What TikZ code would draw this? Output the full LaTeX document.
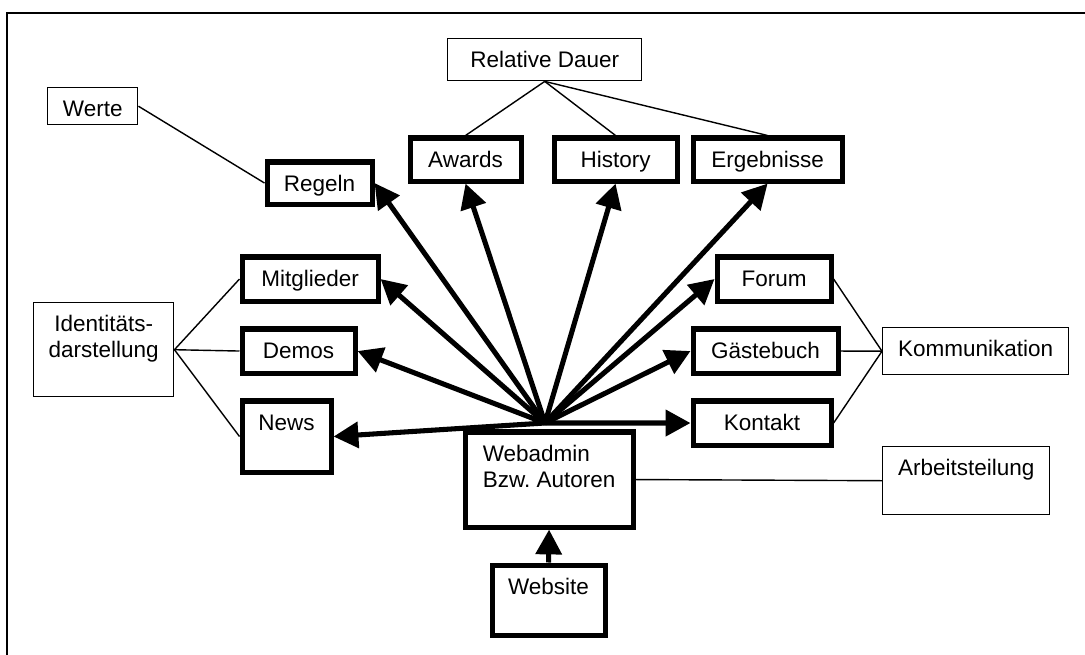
\documentclass[tikz,border=0pt]{standalone}
\usepackage{fontspec}
\setmainfont{Liberation Sans}
\usepackage{xcolor}
\usepackage{tikz}
\usetikzlibrary{shapes,arrows.meta,positioning}

\tikzset{
    basebox/.style={
        draw,
        rectangle,
        anchor=north west,
        inner xsep=0pt,
        inner ysep=0pt,
        text height=0.725cm,
        font=\fontsize{16}{18.5}\selectfont
    },
    thickbox/.style={
        basebox,
        line width=3.6pt
    },
    thinbox/.style={
        basebox,
        line width=1pt
    },
    link/.style={
        line width=1pt
    },
    pointer/.style={
        line width=3.6pt,
        -{Triangle[length=0.62cm,width=0.64cm]}
    }
}

\begin{document}
\begin{tikzpicture}[x=0.025cm,y=-0.025cm]
                \useasboundingbox (0,0) rectangle (1085,655);

                \draw[
                    line width=1pt
                ] (7,655) -- (7,13) -- (1085,13);

                \node[thinbox, minimum width=4.85cm, text depth=0.325cm] (reldauer) at (447,38) {Relative Dauer};
                \node[thinbox, minimum width=2.25cm, text depth=0.2cm] (werte) at (47,87) {Werte};

                \node[thickbox, minimum width=2.625cm, text depth=0.325cm] (regeln) at (264.5,159.5) {Regeln};
                \node[thickbox, minimum width=2.775cm, text depth=0.35cm] (awards) at (407.5,135.5) {Awards};
                \node[thickbox, minimum width=3.075cm, text depth=0.35cm] (history) at (551.5,135.5) {History};
                \node[thickbox, minimum width=3.725cm, text depth=0.35cm] (ergebnisse) at (690.5,135.5) {Ergebnisse};

                \node[thickbox, minimum width=3.4cm, text depth=0.375cm] (mitglieder) at (239.5,254.5) {Mitglieder};
                \node[thickbox, minimum width=2.825cm, text depth=0.375cm] (demos) at (239.5,326.5) {Demos};
                \node[thickbox, minimum width=2.225cm, text depth=1.05cm] (news) at (239.5,398.5) {News};

                \node[thickbox, minimum width=2.85cm, text depth=0.375cm] (forum) at (714.5,254.5) {Forum};
                \node[thickbox, minimum width=3.625cm, text depth=0.375cm] (gaestebuch) at (690.5,326.5) {Gästebuch};
                \node[thickbox, minimum width=3.45cm, text depth=0.375cm] (kontakt) at (690.5,398.5) {Kontakt};

                \node[thinbox, minimum width=3.5cm, text height=1.375cm, text depth=0.975cm, align=center] (identitaet) at (33,302) {Identitäts-\\darstellung};
                \node[thinbox, minimum width=4.65cm, text depth=0.45cm] (kommunikation) at (882,327) {Kommunikation};
                \node[thinbox, minimum width=4.175cm, text depth=0.975cm] (arbeitsteilung) at (882,446) {Arbeitsteilung};

                \node[thickbox, minimum width=4.2cm, text height=1.375cm, text depth=1.0cm, align=left] (webadmin) at (462.5,429.5) {Webadmin\\Bzw.\ Autoren};
                \node[thickbox, minimum width=2.825cm, text depth=1.025cm] (website) at (489.5,562.5) {Website};

                \coordinate (hub) at (545,423);

                \draw[link] (werte.east) -- (regeln.west);
                \draw[link] (reldauer.south) -- (awards.north);
                \draw[link] (reldauer.south) -- (history.north);
                \draw[link] (reldauer.south) -- (ergebnisse.north);
                \draw[link] (identitaet.east) -- (mitglieder.west);
                \draw[link] (identitaet.east) -- (demos.west);
                \draw[link] (identitaet.east) -- (news.west);
                \draw[link] (kommunikation.west) -- (forum.east);
                \draw[link] (kommunikation.west) -- (gaestebuch.east);
                \draw[link] (kommunikation.west) -- (kontakt.east);
                \draw[link] (webadmin.east) -- (arbeitsteilung.west);

                \draw[pointer] (hub) -- (regeln.east);
                \draw[pointer] (hub) -- (awards.south);
                \draw[pointer] (hub) -- (history.south);
                \draw[pointer] (hub) -- (ergebnisse.south);
                \draw[pointer] (hub) -- (mitglieder.east);
                \draw[pointer] (hub) -- (demos.east);
                \draw[pointer] (hub) -- (news.east);
                \draw[pointer] (hub) -- (forum.west);
                \draw[pointer] (hub) -- (gaestebuch.west);
                \draw[pointer] (hub) -- (kontakt.west);
                \draw[pointer] (website.north) -- (webadmin.south);

            \end{tikzpicture}
\end{document}
